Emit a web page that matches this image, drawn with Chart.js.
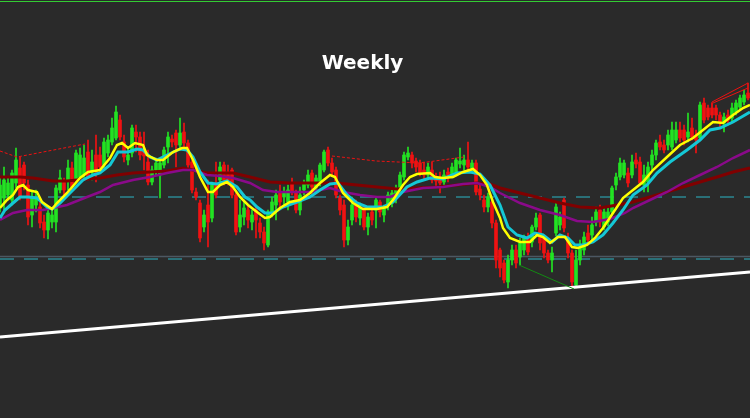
<!DOCTYPE html>
<html><head><meta charset="utf-8">
<script src="https://cdn.jsdelivr.net/npm/chart.js@4"></script>
<style>html,body{margin:0;padding:0;background:#2a2a2a;}canvas{display:block;}</style>
</head><body>
<canvas id="c" width="750" height="418"></canvas>
<script>
// Weekly candles (price units), index = week number
const candleOpen = [295,302,305,300,317,332,335,315,285,295, 293,278,270,278,278,310,318,320,332,320, 323,325,348,328,345,345,335,347,358,362, 380,358,340,347,368,363,350,338,318,330, 325,335,353,361,367,355,368,357,338,308, 297,273,295,282,317,320,335,328,330,305, 273,283,290,278,290,277,268,255,288,295, 307,303,298,317,307,290,310,315,327,312, 317,330,350,337,330,302,295,260,280,297, 282,290,273,288,290,298,285,295,297,302, 310,323,343,345,339,337,330,325,330,323, 322,318,328,325,327,336,335,340,332,337, 311,300,293,298,277,250,237,218,240,250, 243,250,263,258,273,285,262,247,240,267, 275,300,262,247,215,240,250,267,265,278, 290,273,278,288,315,323,325,327,325,340, 338,315,318,335,345,358,355,355,353,360, 370,370,363,372,364,362,397,392,392,392, 385,377,385,382,388,393,398,407];
const candleClose = [315,320,317,327,340,303,317,283,302,303, 277,270,287,285,312,322,310,332,313,347, 345,342,323,338,328,333,358,360,372,388, 363,343,345,372,363,345,344,318,330,337, 337,350,363,358,355,367,357,335,310,303, 262,285,278,315,305,333,320,320,305,268, 285,292,280,285,280,268,257,288,298,305, 298,308,310,308,290,305,317,325,313,322, 335,348,337,328,305,290,260,273,295,283, 293,273,283,280,300,288,292,305,307,312, 325,345,347,337,333,327,325,333,320,319, 317,325,322,333,340,339,340,333,337,308, 305,293,303,277,240,232,220,240,250,237, 257,262,248,273,282,257,247,240,247,293, 283,272,247,218,240,253,263,260,275,288, 278,288,288,312,323,337,337,317,338,336, 317,325,333,345,357,353,350,365,370,370, 362,360,368,363,360,395,380,383,385,385, 378,383,380,392,397,402,405,402];
const candleHigh = [322,333,322,330,352,343,338,320,308,310, 300,285,292,290,315,330,322,340,338,350, 352,355,360,350,365,353,362,365,382,394, 385,365,353,375,375,368,368,350,334,342, 340,353,368,365,370,382,377,360,340,312, 300,290,320,318,338,338,338,335,332,307, 300,300,295,290,293,282,273,290,303,310, 315,313,315,322,310,313,320,330,330,325, 337,350,353,342,333,305,300,280,303,300, 297,293,287,292,302,300,295,308,310,315, 328,348,353,348,342,340,338,337,338,327, 328,330,332,337,342,352,345,358,340,340, 315,305,307,302,280,252,240,245,255,255, 262,265,267,275,287,287,264,250,253,297, 288,302,267,250,250,260,268,275,283,293, 295,292,293,314,327,342,340,332,345,347, 343,335,338,350,360,365,360,370,378,378, 378,375,387,382,370,398,402,395,397,395, 388,387,390,397,400,405,410,417];
const candleLow = [288,290,300,295,312,300,310,275,273,288, 272,262,261,272,268,307,303,310,310,317, 320,322,320,320,318,328,332,343,355,360, 360,338,335,343,348,340,330,315,315,325, 302,332,337,353,333,350,353,332,307,300, 258,268,253,278,302,315,315,315,302,265, 268,275,272,270,262,262,250,253,283,280, 293,295,290,305,287,285,305,312,303,308, 314,328,334,325,302,285,253,255,275,278, 275,270,265,275,272,283,278,290,293,297, 307,320,340,332,328,324,320,322,317,314, 307,314,318,322,324,332,330,328,328,305, 300,288,288,272,232,223,217,212,235,232, 235,245,245,253,270,250,242,237,228,264, 270,268,242,213,212,235,245,255,260,274, 273,270,274,285,310,320,322,313,322,332, 315,308,308,330,340,350,347,350,350,357, 358,355,358,360,347,360,377,380,382,380, 373,368,375,378,385,390,395,400];

// Indicator lines as [week, price] pairs
const yellowMA = [[0,292],[1.75,300],[3.25,305],[4.5,313],[5.75,315],[7,310],[9.25,308],[10.5,298],[13,291],[14.25,297],[16.75,307],[20,322],[22,328],[25,330],[27.5,342],[29.25,355],[30.5,357],[32,352],[33.75,357],[35.75,355],[36.75,345],[39.25,340],[40.75,340],[43.25,348],[45.5,352],[46.75,352],[48.25,340],[50,323],[52,308],[53.25,308],[55,315],[56.75,318],[58.25,313],[60,303],[62,295],[64.25,288],[66.25,282],[67.5,283],[70,292],[72.5,298],[75,300],[77.5,307],[80,317],[82.5,325],[83.75,323],[85.75,307],[88.25,297],[90.75,291],[94.25,291],[96.75,293],[98.25,300],[100.75,315],[102.5,323],[104.25,326],[107.5,327],[108.75,323],[110.75,322],[113.25,323],[115.75,328],[118.25,331],[120,325],[121.75,315],[123.25,298],[125,282],[125.75,272],[127.5,262],[130,258],[132.5,258],[134.25,265],[135.75,263],[137.5,257],[139.5,263],[141.25,263],[143,253],[144.5,252],[146.75,255],[148.75,262],[150.75,272],[153.25,287],[155.75,302],[158.25,310],[160.75,318],[163.25,330],[166.75,343],[170,355],[173.25,362],[175.75,370],[178.25,378],[180.75,377],[183.25,385],[185.75,392],[187.5,395]];
const cyanMA = [[0,282],[1.25,290],[3.25,297],[5,303],[7,303],[9.25,302],[11.75,293],[13,291],[15,297],[17.5,307],[20.75,320],[23.25,325],[25,327],[27.5,335],[29.5,348],[32,348],[34.25,351],[35.75,350],[37.5,343],[39.25,340],[41.75,345],[45,351],[46.75,350],[48.25,343],[50,328],[52,317],[54.25,316],[56.75,319],[59.25,313],[61.25,303],[62.5,300],[64.25,293],[66.25,287],[68.25,287],[70.75,293],[74.25,298],[77.5,303],[80,310],[82.5,316],[84.5,317],[86.75,305],[89.25,297],[91.75,293],[95.75,293],[98.25,298],[101.75,313],[104.25,318],[107.5,322],[110.75,321],[114.25,327],[117.5,328],[120,326],[122.5,315],[125,295],[127,273],[129.25,265],[131.75,262],[133.75,267],[135.75,265],[138,258],[140,265],[142,262],[143.75,255],[145.75,255],[148.25,258],[150.75,265],[153.25,277],[155.75,290],[158.25,305],[161.75,315],[164.25,327],[167.5,338],[171.75,350],[175,360],[177.5,370],[180,372],[183.25,378],[187.5,388]];
const purpleMA = [[0,280],[3.25,287],[6.75,290],[10.75,290],[13.25,292],[16.75,295],[21.75,303],[25,308],[28.25,315],[33.25,320],[37.5,323],[41.75,327],[45.75,330],[48.25,330],[51.75,325],[55,324],[58.25,322],[62.5,317],[65.75,310],[69.25,308],[77.5,308],[82.5,312],[85.75,308],[90,305],[94.25,303],[97.5,303],[100.75,308],[105.75,312],[110.75,313],[115.75,316],[119.25,317],[122.5,313],[125,307],[130,297],[135,290],[140,285],[144.25,279],[148.25,278],[152.5,281],[156.25,287],[158.25,292],[162.5,300],[166.75,308],[170.75,317],[175,325],[179.25,333],[183.25,342],[187.5,350]];
const maroonMA = [[0,323],[5,323],[8.25,322],[13.25,319],[16.75,319],[21.75,321],[25,322],[29.25,325],[33.25,327],[37.5,328],[41.75,329],[45.75,332],[48.25,330],[51.75,327],[58.25,327],[62.5,323],[67.5,318],[72.5,317],[84.25,317],[89.25,315],[94.25,313],[99.25,311],[104.25,312],[109.25,313],[114.25,315],[119.25,317],[122.5,316],[125,312],[130,307],[135,302],[140,297],[145,293],[150,292],[154.25,295],[158.25,298],[162.5,303],[166.75,308],[170.75,313],[175,318],[179.25,323],[183.25,328],[187.5,332]];

// Drawn trend lines and levels
const supportLine = [[0,163],[187.5,228]];
const lowsLine = [[129.75,235],[143.5,211]];
const highsLine1 = [[0,349],[4.25,343],[21.25,356]];
const highsLine2 = [[83,344],[94,339],[105,337],[116,343]];
const channelTop = [[178,388],[178,398],[187,417]];
const channelBottom = [[178.25,397],[187,412]];
const levelUpper = 303;
const levelLowerSolid = 243.5;
const levelLowerDash = 241;

const upColor = '#22e322', downColor = '#f01212';
const idx = candleOpen.map((_, i) => i);
const bodies = idx.map(i => ({x: i, y: [candleOpen[i], candleClose[i]]}));
const wicks = idx.map(i => ({x: i, y: [candleLow[i], candleHigh[i]]}));
const colors = idx.map(i => candleClose[i] >= candleOpen[i] ? upColor : downColor);
const pts = arr => arr.map(p => ({x: p[0], y: p[1]}));
const X0 = 0, X1 = 187.5;
const hLine = v => [{x: X0, y: v}, {x: X1, y: v}];
const line = (data, color, width, order, dash) => ({
  type: 'line', data: pts(data), borderColor: color, borderWidth: width,
  pointRadius: 0, fill: false, tension: 0, order: order, borderDash: dash || []
});

const bgPlugin = {
  id: 'bg',
  beforeDraw(chart) {
    const ctx = chart.ctx;
    ctx.save();
    ctx.fillStyle = '#2a2a2a';
    ctx.fillRect(0, 0, chart.width, chart.height);
    ctx.fillStyle = '#33cc33';
    ctx.fillRect(0, 1, chart.width, 1);
    ctx.restore();
  }
};

new Chart(document.getElementById('c'), {
  type: 'bar',
  data: {
    datasets: [
      line(yellowMA, '#ffff00', 2.5, 0),
      line(cyanMA, '#14c8d6', 3, 1),
      line(purpleMA, '#8a0a8a', 2.5, 2),
      line(maroonMA, '#800000', 3, 3),
      line(highsLine1, '#ee1111', 1, 4, [3, 2]),
      line(highsLine2, '#ee1111', 1, 4, [3, 2]),
      line(channelTop, '#ee1111', 1, 4),
      line(channelBottom, '#ee1111', 1, 4),
      line(lowsLine, '#128a12', 1, 4),
      line(supportLine, '#ffffff', 3, 5),
      {type: 'bar', data: bodies, backgroundColor: colors, barThickness: 3, grouped: false, borderWidth: 0, order: 6},
      {type: 'bar', data: wicks, backgroundColor: colors, barThickness: 1, grouped: false, borderWidth: 0, order: 7},
      {type: 'line', data: hLine(levelUpper), borderColor: '#2bb5c5', borderWidth: 1, borderDash: [14, 10], pointRadius: 0, order: 8},
      {type: 'line', data: hLine(levelLowerSolid), borderColor: '#4c5762', borderWidth: 1.5, pointRadius: 0, order: 8},
      {type: 'line', data: hLine(levelLowerDash), borderColor: '#2bb5c5', borderWidth: 1, borderDash: [14, 10], pointRadius: 0, order: 8}
    ]
  },
  options: {
    responsive: false,
    animation: false,
    devicePixelRatio: 1,
    layout: {padding: {left: -25, right: 0, top: 0, bottom: 0}},
    plugins: {
      legend: {display: false},
      tooltip: {enabled: false},
      title: {display: true, text: 'Weekly', color: '#ffffff',
        font: {family: 'DejaVu Sans', size: 20, weight: 'bold'},
        padding: {top: 52, bottom: 0}}
    },
    scales: {
      x: {type: 'linear', min: X0, max: X1, display: false, offset: false},
      y: {type: 'linear', min: 82, max: 424, display: false}
    }
  },
  plugins: [bgPlugin]
});
</script>
</body></html>
